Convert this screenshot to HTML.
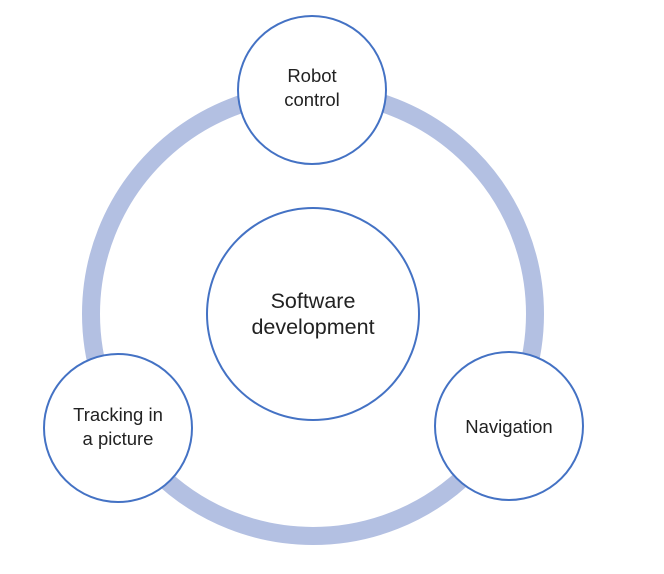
<!DOCTYPE html>
<html><head><style>
html,body{margin:0;padding:0;background:#fff;}
svg{display:block;}
text{font-family:"Liberation Sans",Arial,sans-serif;fill:#222;}
</style></head><body>
<svg width="664" height="574" viewBox="0 0 664 574" xmlns="http://www.w3.org/2000/svg">
<rect width="664" height="574" fill="#fff"/>
<circle cx="313" cy="314" r="222" fill="none" stroke="#b3c0e2" stroke-width="18"/>
<g fill="#fff" stroke="#4472c4" stroke-width="2">
<circle cx="313" cy="314" r="106"/>
<circle cx="312" cy="90" r="74"/>
<circle cx="118" cy="428" r="74"/>
<circle cx="509" cy="426" r="74"/>
</g>
<g text-anchor="middle" font-size="18.5">
<text x="312" y="82">Robot</text>
<text x="312" y="106">control</text>
<text x="313" y="308" font-size="21.5">Software</text>
<text x="313" y="334" font-size="21.5">development</text>
<text x="118" y="421">Tracking in</text>
<text x="118" y="445">a picture</text>
<text x="509" y="433">Navigation</text>
</g>
</svg>
</body></html>
